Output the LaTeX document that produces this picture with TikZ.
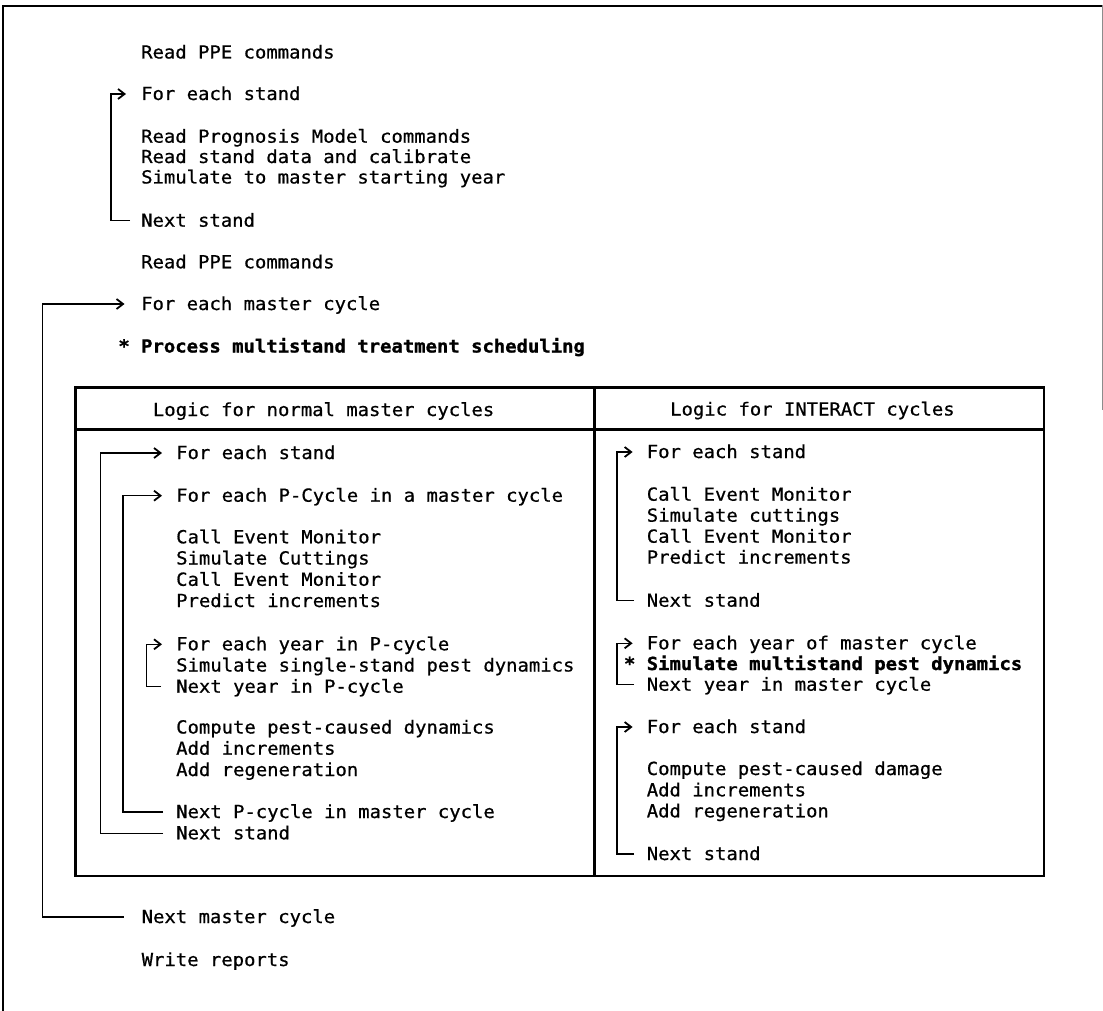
\documentclass[tikz,border=0pt]{standalone}
\usepackage{fontspec}
\newfontfamily\monofam[FakeStretch=1.05,FakeBold=0.7]{DejaVu Sans Mono}
\newfontfamily\monobold[FakeStretch=1.05,FakeBold=1.2]{DejaVu Sans Mono Bold}
\usetikzlibrary{arrows.meta}
\begin{document}
\begin{tikzpicture}[x=1pt,y=-1pt,
  txt/.style={anchor=base west, inner sep=0pt, font=\monofam\fontsize{18}{21}\selectfont},
  btxt/.style={anchor=base west, inner sep=0pt, font=\monobold\fontsize{18}{21}\selectfont},
  loopline/.style={line width=1.2pt, -{Straight Barb[length=6.5pt,width=10pt,line width=1.8pt]}},
  boxline/.style={line width=2.8pt},
  frameline/.style={line width=2pt}]
\useasboundingbox (0,0) rectangle (1103,1011);
% frame
\draw[frameline] (3,1011) -- (3,6.5) -- (1103,6.5);
\draw[line width=0.9pt, black!45] (1102,5) -- (1102,410);

% outer text
\node[txt] (o1) at (141,58.5) {Read PPE commands};
\node[txt] (o2) at (141,100) {For each stand};
\node[txt] (o3) at (141,142.7) {Read Prognosis Model commands};
\node[txt] (o4) at (141,163) {Read stand data and calibrate};
\node[txt] (o5) at (141,183.5) {Simulate to master starting year};
\node[txt] (o6) at (141,226.7) {Next stand};
\node[txt] (o7) at (141,268.3) {Read PPE commands};
\node[txt] (o8) at (141,310) {For each master cycle};
\node[btxt] (o9) at (118.2,352.5) {* Process multistand treatment scheduling};
\node[txt] (o10) at (141.5,923) {Next master cycle};
\node[txt] (o11) at (141.5,966) {Write reports};

% box
\draw[boxline] (75.5,387.5) rectangle (1044,876);
\draw[line width=2.4pt] (75.5,429.5) -- (1044,429.5);
\draw[boxline] (594.5,387.5) -- (594.5,876);
\node[txt] (hl) at (152.7,416) {Logic for normal master cycles};
\node[txt] (hr) at (670,415.5) {Logic for INTERACT cycles};

% left column
\node[txt] (l1) at (176,459) {For each stand};
\node[txt] (l2) at (176,501.7) {For each P-Cycle in a master cycle};
\node[txt] (l3) at (176,543.3) {Call Event Monitor};
\node[txt] (l4) at (176,564.5) {Simulate Cuttings};
\node[txt] (l5) at (176,585.8) {Call Event Monitor};
\node[txt] (l6) at (176,607) {Predict increments};
\node[txt] (l7) at (176,650.3) {For each year in P-cycle};
\node[txt] (l8) at (176,671.5) {Simulate single-stand pest dynamics};
\node[txt] (l9) at (176,692.7) {Next year in P-cycle};
\node[txt] (l10) at (176,733.5) {Compute pest-caused dynamics};
\node[txt] (l11) at (176,754.7) {Add increments};
\node[txt] (l12) at (176,776) {Add regeneration};
\node[txt] (l13) at (176,818) {Next P-cycle in master cycle};
\node[txt] (l14) at (176,839.3) {Next stand};

% right column
\node[txt] (r1) at (646.6,458) {For each stand};
\node[txt] (r2) at (646.6,500.7) {Call Event Monitor};
\node[txt] (r3) at (646.6,521.7) {Simulate cuttings};
\node[txt] (r4) at (646.6,542.7) {Call Event Monitor};
\node[txt] (r5) at (646.6,563.5) {Predict increments};
\node[txt] (r6) at (646.6,606.7) {Next stand};
\node[txt] (r7) at (646.6,649.3) {For each year of master cycle};
\node[btxt] (r8) at (623.8,670) {* Simulate multistand pest dynamics};
\node[txt] (r9) at (646.6,690.7) {Next year in master cycle};
\node[txt] (r10) at (646.6,733) {For each stand};
\node[txt] (r11) at (646.6,775) {Compute pest-caused damage};
\node[txt] (r12) at (646.6,796.3) {Add increments};
\node[txt] (r13) at (646.6,817.3) {Add regeneration};
\node[txt] (r14) at (646.6,860) {Next stand};

% vertical positions of loop lines
\coordinate (vO) at (111,0);
\coordinate (vM) at (42.8,0);
\coordinate (vLs) at (100.5,0);
\coordinate (vLp) at (123,0);
\coordinate (vLy) at (146.5,0);
\coordinate (vR) at (617,0);

% loop ends
\coordinate (o2a) at ([xshift=-15pt,yshift=6pt]o2.base west);
\coordinate (o6a) at ([xshift=-11pt,yshift=6pt]o6.base west);
\coordinate (o8a) at ([xshift=-16.5pt,yshift=6pt]o8.base west);
\coordinate (o10a) at ([xshift=-18pt,yshift=6pt]o10.base west);
\coordinate (l1a) at ([xshift=-14pt,yshift=6pt]l1.base west);
\coordinate (l14a) at ([xshift=-13pt,yshift=6pt]l14.base west);
\coordinate (l2a) at ([xshift=-14pt,yshift=6pt]l2.base west);
\coordinate (l13a) at ([xshift=-13pt,yshift=6pt]l13.base west);
\coordinate (l7a) at ([xshift=-14pt,yshift=6pt]l7.base west);
\coordinate (l9a) at ([xshift=-15pt,yshift=6pt]l9.base west);
\coordinate (r1a) at ([xshift=-14pt,yshift=6pt]r1.base west);
\coordinate (r6a) at ([xshift=-12.6pt,yshift=6pt]r6.base west);
\coordinate (r7a) at ([xshift=-14pt,yshift=6pt]r7.base west);
\coordinate (r9a) at ([xshift=-12.6pt,yshift=6pt]r9.base west);
\coordinate (r10a) at ([xshift=-14pt,yshift=6pt]r10.base west);
\coordinate (r14a) at ([xshift=-12.6pt,yshift=6pt]r14.base west);

% loops
\draw[loopline] (o6a) -- (o6a -| vO) |- (o2a);
\draw[loopline] (o10a) -- (o10a -| vM) |- (o8a);
\draw[loopline] (l14a) -- (l14a -| vLs) |- (l1a);
\draw[loopline] (l13a) -- (l13a -| vLp) |- (l2a);
\draw[loopline] (l9a) -- (l9a -| vLy) |- (l7a);
\draw[loopline] (r6a) -- (r6a -| vR) |- (r1a);
\draw[loopline] (r9a) -- (r9a -| vR) |- (r7a);
\draw[loopline] (r14a) -- (r14a -| vR) |- (r10a);
\end{tikzpicture}
\end{document}
